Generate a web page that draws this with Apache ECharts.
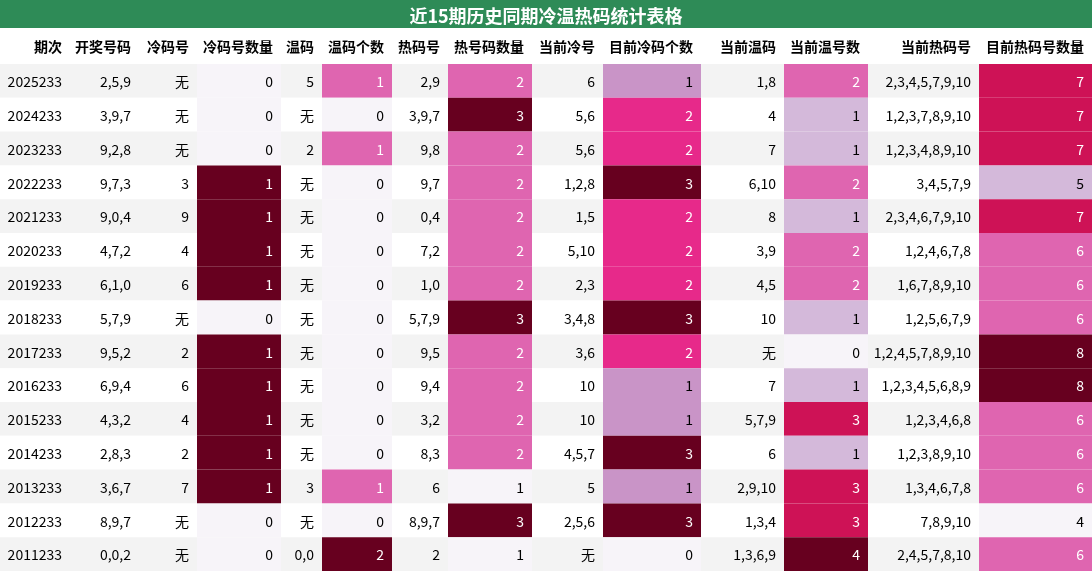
<!DOCTYPE html><html><head><meta charset="utf-8">
<script src="https://cdn.jsdelivr.net/npm/echarts@6/dist/echarts.min.js"></script>
<style>html,body{margin:0;padding:0;background:#fff}#c{width:1092px;height:571px}</style></head><body><div id="c"></div>
<script>
const title = '近15期历史同期冷温热码统计表格';
const headers = ['期次','开奖号码','冷码号','冷码号数量','温码','温码个数','热码号','热号码数量','当前冷号','目前冷码个数','当前温码','当前温号数','当前热码号','目前热码号数量'];
const periods = ['2025233','2024233','2023233','2022233','2021233','2020233','2019233','2018233','2017233','2016233','2015233','2014233','2013233','2012233','2011233'];
const drawNums = ['2,5,9','3,9,7','9,2,8','9,7,3','9,0,4','4,7,2','6,1,0','5,7,9','9,5,2','6,9,4','4,3,2','2,8,3','3,6,7','8,9,7','0,0,2'];
const coldNums = ['无','无','无','3','9','4','6','无','2','6','4','2','7','无','无'];
const coldCount = [0,0,0,1,1,1,1,0,1,1,1,1,1,0,0];
const warmNums = ['5','无','2','无','无','无','无','无','无','无','无','无','3','无','0,0'];
const warmCount = [1,0,1,0,0,0,0,0,0,0,0,0,1,0,2];
const hotNums = ['2,9','3,9,7','9,8','9,7','0,4','7,2','1,0','5,7,9','9,5','9,4','3,2','8,3','6','8,9,7','2'];
const hotCount = [2,3,2,2,2,2,2,3,2,2,2,2,1,3,1];
const curCold = ['6','5,6','5,6','1,2,8','1,5','5,10','2,3','3,4,8','3,6','10','10','4,5,7','5','2,5,6','无'];
const curColdCount = [1,2,2,3,2,2,2,3,2,1,1,3,1,3,0];
const curWarm = ['1,8','4','7','6,10','8','3,9','4,5','10','无','7','5,7,9','6','2,9,10','1,3,4','1,3,6,9'];
const curWarmCount = [2,1,1,2,1,2,2,1,0,1,3,1,3,3,4];
const curHot = ['2,3,4,5,7,9,10','1,2,3,7,8,9,10','1,2,3,4,8,9,10','3,4,5,7,9','2,3,4,6,7,9,10','1,2,4,6,7,8','1,6,7,8,9,10','1,2,5,6,7,9','1,2,4,5,7,8,9,10','1,2,3,4,5,6,8,9','1,2,3,4,6,8','1,2,3,8,9,10','1,3,4,6,7,8','7,8,9,10','2,4,5,7,8,10'];
const curHotCount = [7,7,7,5,7,6,6,6,8,8,6,6,6,4,6];

const cols = [periods,drawNums,coldNums,coldCount,warmNums,warmCount,hotNums,hotCount,curCold,curColdCount,curWarm,curWarmCount,curHot,curHotCount];
const edges = [0,70,139,197,281,322,392,448,532,603,701,784,868,979,1092];
const PuRd = ['#f7f4f9','#e7e1ef','#d4b9da','#c994c7','#df65b0','#e7298a','#ce1256','#980043','#67001f'];
const ranges = cols.map(c => typeof c[0]==='number' ? [Math.min(...c),Math.max(...c)] : null);

const data = [];
cols.forEach((c,ci)=>c.forEach((v,ri)=>data.push([ci,ri])));
const hdata = headers.map((h,i)=>[i,0]);

function cellColor(ci,ri){
  const r = ranges[ci];
  if(!r) return {bg: ri%2===0?'#f3f3f3':'#ffffff', fg:'#000', t:null};
  const v = cols[ci][ri];
  const t = (v-r[0])/(r[1]-r[0]);
  return {bg: PuRd[Math.round(t*8)], fg: t>=0.5?'#fff':'#000', t};
}
function render(isHeader){
  return function(params, api){
    const ci = api.value(0), ri = api.value(1);
    const p0 = api.coord([edges[ci], ri]);
    const p1 = api.coord([edges[ci+1], ri+1]);
    let bg='#fff', fg='#000', text=headers[ci], bold=true;
    if(!isHeader){ const c=cellColor(ci,ri); bg=c.bg; fg=c.fg; text=String(cols[ci][ri]); bold=false; }
    const w=p1[0]-p0[0], h=p1[1]-p0[1];
    return {type:'group',children:[
      {type:'rect',shape:{x:p0[0],y:p0[1],width:w,height:h},style:{fill:bg}},
      {type:'text',style:{x:p1[0]-8,y:p0[1]+h/2+1,text,fill:fg,align:'right',verticalAlign:'middle',
        font:(bold?'bold ':'')+'14px "Noto Sans CJK SC", sans-serif'}}
    ]};
  };
}
const chart = echarts.init(document.getElementById('c'));
chart.setOption({
  animation:false,
  title:{text:title,left:'center',top:2,textStyle:{color:'#fff',fontSize:18,fontWeight:'bold',fontFamily:'"Noto Sans CJK SC", sans-serif'}},
  graphic:[{type:'rect',shape:{x:0,y:0,width:1092,height:28},style:{fill:'#2e8b57'},z:-1}],
  grid:[{left:0,right:0,top:64,bottom:0},{left:0,right:0,top:28,height:36}],
  xAxis:[{type:'value',min:0,max:1092,show:false,gridIndex:0},{type:'value',min:0,max:1092,show:false,gridIndex:1}],
  yAxis:[{type:'value',min:0,max:15,inverse:true,show:false,gridIndex:0},{type:'value',min:0,max:1,inverse:true,show:false,gridIndex:1}],
  series:[
    {type:'custom',xAxisIndex:0,yAxisIndex:0,data,renderItem:render(false),encode:{x:0,y:1}},
    {type:'custom',xAxisIndex:1,yAxisIndex:1,data:hdata,renderItem:render(true),encode:{x:0,y:1}}
  ]
});
</script></body></html>
